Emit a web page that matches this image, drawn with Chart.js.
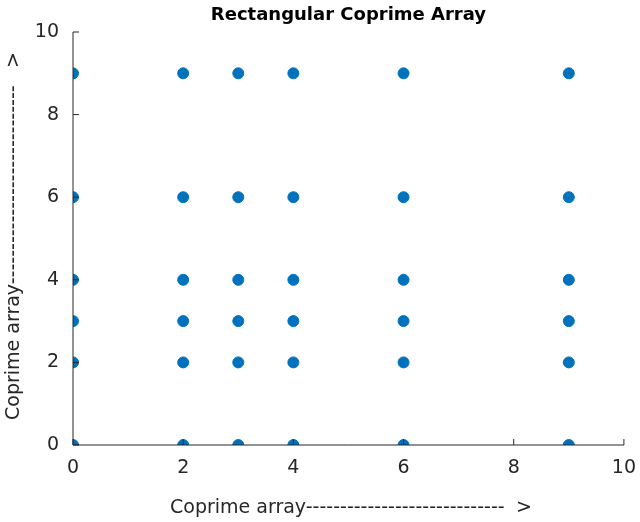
<!DOCTYPE html>
<html><head>
<script src="https://cdn.jsdelivr.net/npm/chart.js@4"></script>
<style>body{margin:0;background:#fff}#wrap{width:640px;height:522px}</style>
</head><body>
<div id="wrap"><canvas id="c"></canvas></div>
<script>
var xPositions = [0, 2, 3, 4, 6, 9];
var yPositions = [0, 2, 3, 4, 6, 9];
var tickValues = [0, 2, 4, 6, 8, 10];
var titleText = 'Rectangular Coprime Array';
var xLabel = 'Coprime array-----------------------------';
var yLabel = 'Coprime array-----------------------------';

var pts = [];
xPositions.forEach(function (x) {
    yPositions.forEach(function (y) { pts.push({x: x, y: y}); });
});

var FONT = '"DejaVu Sans", sans-serif';

var deco = {
    id: 'deco',
    afterDraw: function (chart) {
        var ctx = chart.ctx, a = chart.chartArea, xs = chart.scales.x, ys = chart.scales.y;
        ctx.save();
        ctx.strokeStyle = '#262626'; ctx.lineWidth = 1;
        ctx.beginPath();
        ctx.moveTo(a.left, a.top); ctx.lineTo(a.left, a.bottom); ctx.lineTo(a.right, a.bottom);
        tickValues.forEach(function (v) {
            var px = xs.getPixelForValue(v); ctx.moveTo(px, a.bottom); ctx.lineTo(px, a.bottom - 6);
            var py = ys.getPixelForValue(v); ctx.moveTo(a.left, py); ctx.lineTo(a.left + 6, py);
        });
        ctx.stroke();
        ctx.fillStyle = '#000';
        ctx.font = 'bold 18px ' + FONT;
        ctx.textAlign = 'center'; ctx.textBaseline = 'bottom';
        ctx.fillText(titleText, (a.left + a.right) / 2, 24);
        ctx.fillStyle = '#262626';
        ctx.font = '19px ' + FONT;
        ctx.textAlign = 'left'; ctx.textBaseline = 'middle';
        ctx.fillText(xLabel, 170, 508);
        ctx.fillText('>', 516, 508);
        ctx.translate(14, 420); ctx.rotate(-Math.PI / 2);
        ctx.fillText(yLabel, 0, 0);
        ctx.fillText('>', 352, 0);
        ctx.restore();
    }
};

new Chart(document.getElementById('c'), {
    type: 'scatter',
    data: { datasets: [{ data: pts, backgroundColor: '#0072BD', borderColor: '#0072BD', pointRadius: 5.5 }] },
    options: {
        responsive: true, maintainAspectRatio: false, animation: false,
        layout: { padding: { top: 32, right: 15, left: 0, bottom: 0 } },
        plugins: { legend: { display: false }, tooltip: { enabled: false } },
        scales: {
            x: {
                type: 'linear', min: 0, max: 10,
                afterBuildTicks: function (s) { s.ticks = tickValues.map(function (v) { return {value: v}; }); },
                afterFit: function (s) { s.height = 77; },
                grid: { display: false }, border: { display: false },
                ticks: { color: '#262626', font: { family: FONT, size: 19 }, padding: 4, maxRotation: 0 }
            },
            y: {
                type: 'linear', min: 0, max: 10,
                afterBuildTicks: function (s) { s.ticks = tickValues.map(function (v) { return {value: v}; }); },
                afterFit: function (s) { s.width = 73; },
                grid: { display: false }, border: { display: false },
                ticks: { color: '#262626', font: { family: FONT, size: 19 }, padding: 6 }
            }
        }
    },
    plugins: [deco]
});
</script>
</body></html>
